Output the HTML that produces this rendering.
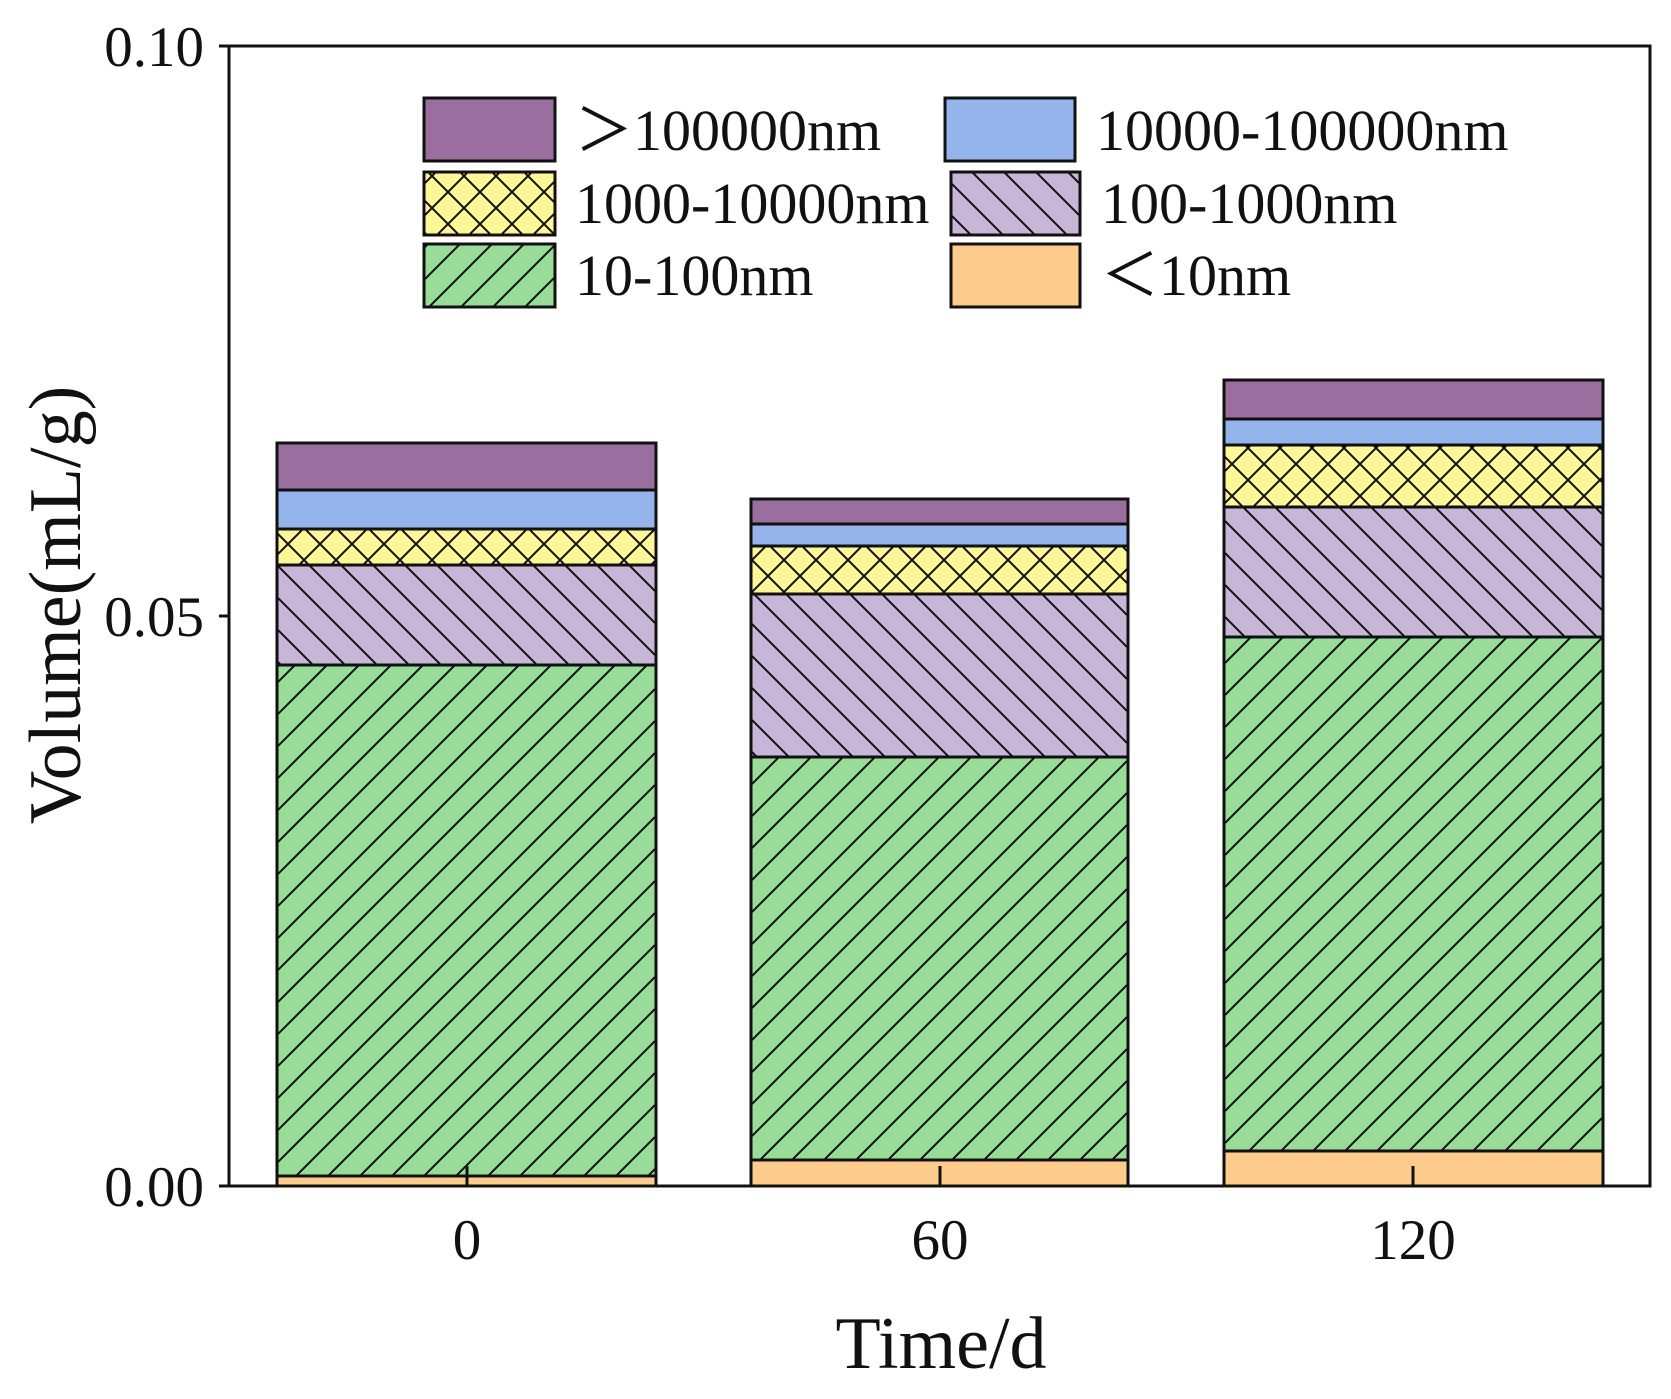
<!DOCTYPE html>
<html><head><meta charset="utf-8"><style>html,body{margin:0;padding:0;background:#fff}svg{display:block}</style></head>
<body>
<svg width="1671" height="1399" viewBox="0 0 1671 1399" xmlns="http://www.w3.org/2000/svg" font-family="'Liberation Serif', serif">
<defs>
<pattern id="fw" patternUnits="userSpaceOnUse" width="32" height="32"><rect width="32" height="32" fill="#98dc98"/><path d="M-8,8 L8,-8 M0,32 L32,0 M24,40 L40,24" stroke="#111" stroke-width="2"/></pattern>
<pattern id="bk" patternUnits="userSpaceOnUse" width="32" height="32"><rect width="32" height="32" fill="#c8b6d8"/><path d="M-8,24 L8,40 M0,0 L32,32 M24,-8 L40,8" stroke="#111" stroke-width="2"/></pattern>
<pattern id="xx" patternUnits="userSpaceOnUse" width="32" height="32"><rect width="32" height="32" fill="#fdf79a"/><path d="M0,0 L32,32 M0,32 L32,0 M-8,8 L8,-8 M24,40 L40,24 M-8,24 L8,40 M24,-8 L40,8" stroke="#111" stroke-width="2"/></pattern>
</defs>
<g stroke="#111" stroke-width="3">
<rect x="277" y="1176" width="379" height="10" fill="#fdcb8c"/>
<rect x="277" y="665" width="379" height="511" fill="url(#fw)"/>
<rect x="277" y="565" width="379" height="100" fill="url(#bk)"/>
<rect x="277" y="529" width="379" height="36" fill="url(#xx)"/>
<rect x="277" y="490" width="379" height="39" fill="#95b4ec"/>
<rect x="277" y="443" width="379" height="47" fill="#9a6f9f"/>
<rect x="751" y="1160" width="377" height="26" fill="#fdcb8c"/>
<rect x="751" y="757" width="377" height="403" fill="url(#fw)"/>
<rect x="751" y="594" width="377" height="163" fill="url(#bk)"/>
<rect x="751" y="546" width="377" height="48" fill="url(#xx)"/>
<rect x="751" y="524" width="377" height="22" fill="#95b4ec"/>
<rect x="751" y="499" width="377" height="25" fill="#9a6f9f"/>
<rect x="1224" y="1151" width="379" height="35" fill="#fdcb8c"/>
<rect x="1224" y="637" width="379" height="514" fill="url(#fw)"/>
<rect x="1224" y="507" width="379" height="130" fill="url(#bk)"/>
<rect x="1224" y="445" width="379" height="62" fill="url(#xx)"/>
<rect x="1224" y="419" width="379" height="26" fill="#95b4ec"/>
<rect x="1224" y="380" width="379" height="39" fill="#9a6f9f"/>
<rect x="424" y="98" width="131" height="63" fill="#9a6f9f"/>
<rect x="424" y="172" width="131" height="63" fill="url(#xx)"/>
<rect x="424" y="244" width="131" height="63" fill="url(#fw)"/>
<rect x="945" y="98" width="130" height="63" fill="#95b4ec"/>
<rect x="951" y="172" width="129" height="63" fill="url(#bk)"/>
<rect x="951" y="244" width="129" height="63" fill="#fdcb8c"/>
</g>
<rect x="229" y="46" width="1421" height="1140" fill="none" stroke="#111" stroke-width="3"/>
<g stroke="#111" stroke-width="3">
<line x1="467" y1="1186" x2="467" y2="1166"/>
<line x1="940" y1="1186" x2="940" y2="1166"/>
<line x1="1413" y1="1186" x2="1413" y2="1166"/>
<line x1="219" y1="616" x2="229" y2="616"/>
<line x1="219" y1="1186" x2="229" y2="1186"/>
<line x1="219" y1="46" x2="229" y2="46"/>
</g>
<g font-size="57" fill="#111" text-anchor="end">
<text x="204" y="66">0.10</text>
<text x="204" y="636">0.05</text>
<text x="204" y="1206">0.00</text>
</g>
<g font-size="57" fill="#111" text-anchor="middle">
<text x="467" y="1259">0</text>
<text x="940" y="1259">60</text>
<text x="1413" y="1259">120</text>
</g>
<text x="941" y="1368" font-size="74" text-anchor="middle" fill="#111">Time/d</text>
<text transform="translate(80,605) rotate(-90)" font-size="74" text-anchor="middle" fill="#111">Volume(mL/g)</text>
<g font-size="58" fill="#111">
<text x="575" y="150">＞100000nm</text>
<text x="575" y="223">1000-10000nm</text>
<text x="575" y="295">10-100nm</text>
<text x="1096" y="150">10000-100000nm</text>
<text x="1101" y="223">100-1000nm</text>
<text x="1101" y="295">＜10nm</text>
</g>
</svg>
</body></html>
